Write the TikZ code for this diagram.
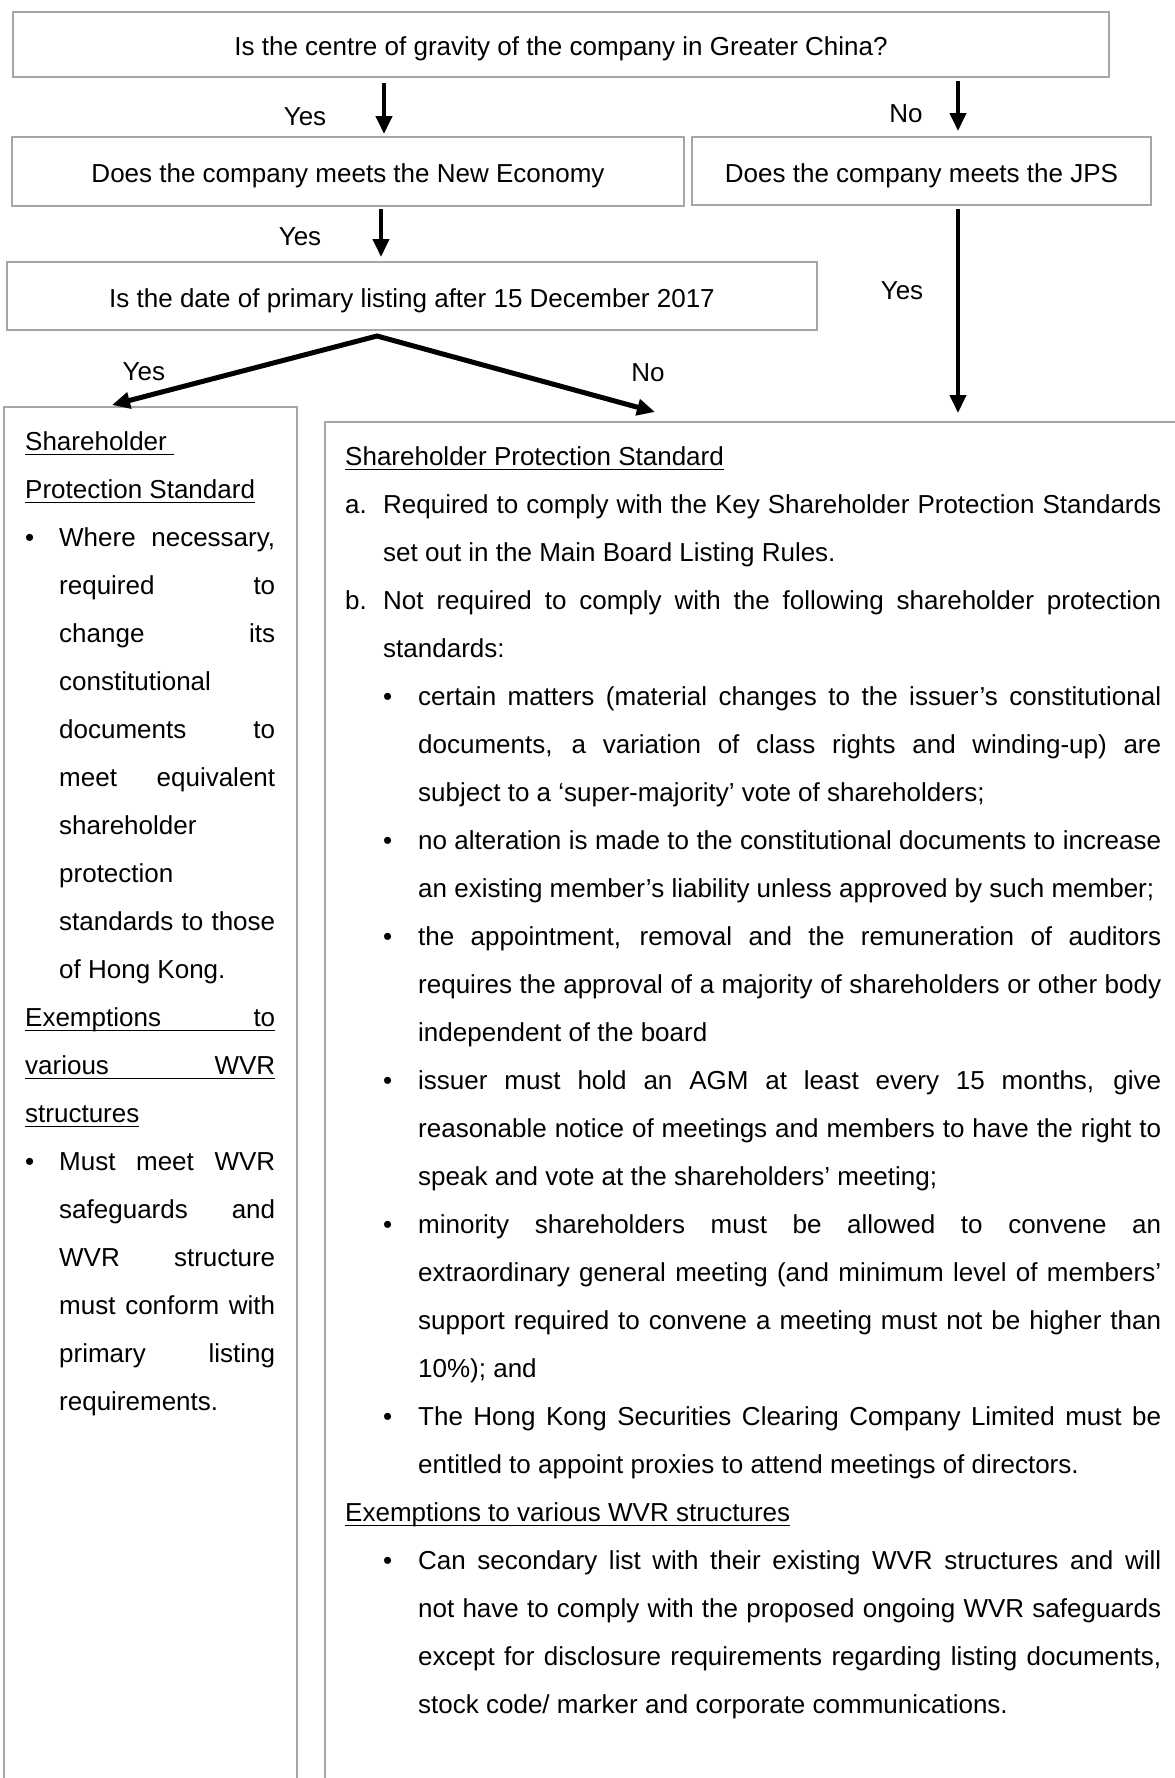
\documentclass[tikz,border=0pt]{standalone}
\usepackage{fontspec}
\setmainfont{Liberation Sans}
\usetikzlibrary{arrows.meta,calc,positioning}

\newsavebox{\ulbox}
\newcommand{\ulhead}[1]{\leavevmode\sbox{\ulbox}{#1}\rlap{\rule[-5.2pt]{\wd\ulbox}{1.7pt}}\usebox{\ulbox}}
\newcommand{\abitem}[2]{\par\hangindent=38pt\hangafter=1\noindent\makebox[38pt][l]{#1}#2\par}
\newcommand{\dotitem}[1]{\par\hangindent=34pt\hangafter=1\noindent\makebox[34pt][l]{•}#1\par}
\newcommand{\subdotitem}[1]{\par{\leftskip=38pt\hangindent=35pt\hangafter=1\noindent\makebox[35pt][l]{•}#1\par}}
\newcommand{\bodysetup}{\parindent0pt\tolerance10000\hyphenpenalty10000\exhyphenpenalty10000\relax}

\begin{document}
\begin{tikzpicture}[
    x=1pt, y=-1pt,
    font=\fontsize{26pt}{48pt}\selectfont,
    box/.style={
        rectangle,
        draw=black!35,
        line width=2pt,
        inner sep=0pt,
        text height=24pt,
        text depth=2pt
    },
    panel/.style={
        rectangle,
        draw=black!35,
        line width=2pt,
        inner sep=0pt,
        minimum height=1400pt,
        anchor=north west
    },
    body/.style={
        inner sep=0pt,
        anchor=north west,
        align=justify,
        font={\fontsize{26pt}{48pt}\selectfont\bodysetup}
    },
    choice/.style={inner sep=0pt},
    arrow/.style={-{Triangle[length=18pt,width=16pt]}, line width=4pt},
    split/.style={{Triangle[length=18pt,width=16pt]}-{Triangle[length=18pt,width=16pt]}, line width=5pt}
]
\useasboundingbox (0,0) rectangle (1175,1778);
\clip (0,0) rectangle (1175,1778);

% Nodes
\node[box, minimum width=1096pt, minimum height=65pt] (Q1) at (561,44.5) {Is the centre of gravity of the company in Greater China?};
\node[box, minimum width=672pt, minimum height=69pt] (NE) at (348,171.5) {Does the company meets the New Economy};
\node[box, minimum width=459pt, minimum height=68pt] (JPS) at (921.5,171) {Does the company meets the JPS};
\node[box, minimum width=810pt, minimum height=68pt] (Date) at (412,296) {Is the date of primary listing after 15 December 2017};
\node[panel, minimum width=293pt] (Left) at (3,406) {};
\node[panel, minimum width=867pt] (Right) at (324,421) {};

% Texts
\node[body, text width=250pt] (LeftTxt) at ($(Left.north west)+(22,24)$) {%
\rule{0pt}{20pt}\ulhead{Shareholder\ }\newline
\ulhead{Protection Standard}\par
\dotitem{Where necessary,\linebreak required to\linebreak change its\linebreak constitutional\linebreak documents to\linebreak meet equivalent\linebreak shareholder\linebreak protection\linebreak standards to those\linebreak of Hong Kong.}
\ulhead{\makebox[250pt][s]{Exemptions to}}\newline
\ulhead{\makebox[250pt][s]{various WVR}}\newline
\ulhead{structures}\par
\dotitem{Must meet WVR\linebreak safeguards and\linebreak WVR structure\linebreak must conform with\linebreak primary listing\linebreak requirements.}};

\node[body, text width=816pt] (RightTxt) at ($(Right.north west)+(21,24)$) {%
\rule{0pt}{20pt}\ulhead{Shareholder Protection Standard}\par
\abitem{a.}{Required to comply with the Key Shareholder Protection Standards\linebreak set out in the Main Board Listing Rules.}
\abitem{b.}{Not required to comply with the following shareholder protection\linebreak standards:}
\subdotitem{certain matters (material changes to the issuer’s constitutional\linebreak documents, a variation of class rights and winding-up) are\linebreak subject to a ‘super-majority’ vote of shareholders;}
\subdotitem{no alteration is made to the constitutional documents to increase\linebreak an existing member’s liability unless approved by such member;}
\subdotitem{the appointment, removal and the remuneration of auditors\linebreak requires the approval of a majority of shareholders or other body\linebreak independent of the board}
\subdotitem{issuer must hold an AGM at least every 15 months, give\linebreak reasonable notice of meetings and members to have the right to\linebreak speak and vote at the shareholders’ meeting;}
\subdotitem{minority shareholders must be allowed to convene an\linebreak extraordinary general meeting (and minimum level of members’\linebreak support required to convene a meeting must not be higher than\linebreak 10\%); and}
\subdotitem{The Hong Kong Securities Clearing Company Limited must be\linebreak entitled to appoint proxies to attend meetings of directors.}
\ulhead{Exemptions to various WVR structures}\par
\subdotitem{Can secondary list with their existing WVR structures and will\linebreak not have to comply with the proposed ongoing WVR safeguards\linebreak except for disclosure requirements regarding listing documents,\linebreak stock code/ marker and corporate communications.}};

% Arrows
\draw[arrow] ($(Q1.south -| NE.north)+(36,5)$) -- ($(NE.north)+(36,-2)$)
    node[choice, pos=0.66, xshift=-79pt] (yesNE) {Yes};
\draw[arrow] ($(Q1.south -| JPS.north)+(36.5,3)$) -- ($(JPS.north)+(36.5,-5)$)
    node[choice, pos=0.65, xshift=-52pt] (noJPS) {No};
\draw[arrow] ($(NE.south)+(33,2)$) -- ($(NE.south |- Date.north)+(33,-4)$)
    node[choice, pos=0.58, xshift=-81pt] (yesDate) {Yes};
\draw[arrow] ($(JPS.south)+(36.5,3)$) -- ($(JPS.south |- Right.north)+(36.5,-8)$)
    node[choice, pos=0.40, xshift=-56pt] (yesRight) {Yes};
\coordinate (fork) at ($(Date.south)+(-35,5)$);
\draw[split] ($(Left.north west)+(109,-1)$)
    -- node[choice, pos=0.12, yshift=25pt] (yesLeft) {Yes} (fork)
    -- node[choice, pos=0.975, yshift=37pt] (noRight) {No} ($(Right.north west)+(331,-9)$);

\end{tikzpicture}
\end{document}
